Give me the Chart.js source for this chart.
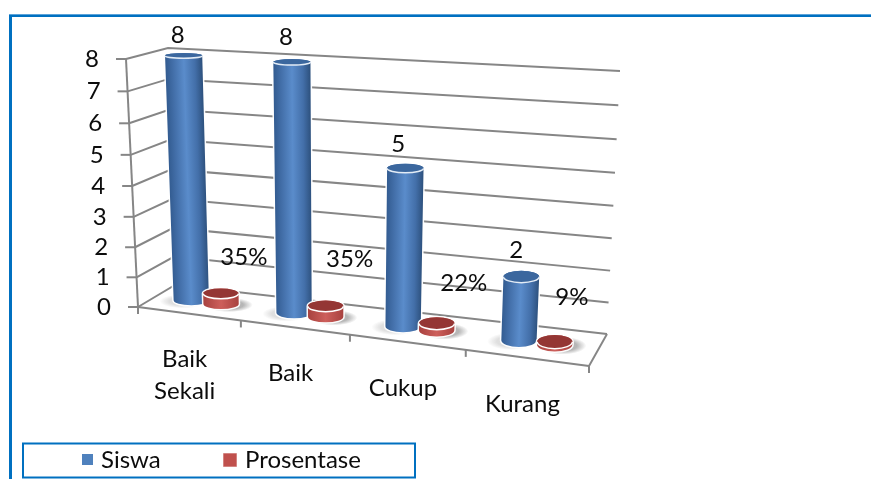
<!DOCTYPE html>
<html>
<head>
<meta charset="utf-8">
<style>
  html, body { margin: 0; padding: 0; background: #fff; }
  canvas { display: block; }
</style>
<script src="https://cdn.jsdelivr.net/npm/chart.js@4"></script>
</head>
<body>
<canvas id="chart" width="871" height="479"></canvas>
<script>
// Chart values
const categories = [['Baik', 'Sekali'], 'Baik', 'Cukup', 'Kurang'];
const siswa = [8, 8, 5, 2];
const prosentase = [0.35, 0.35, 0.22, 0.09];
const tickLabels = ['0', '1', '2', '3', '4', '5', '6', '7', '8'];

// Corners of the 3D plot box on screen: [x, y]
const box = {
  frontBottom: [[138, 307], [589, 366]],
  frontTop:    [[126, 59],  [604, 91]],
  backBottom:  [[175, 285], [607, 334]],
  backTop:     [[168, 48],  [620, 71]]
};
const FONT = 'Lato, sans-serif';
const GRID = '#868686';
const FRAME = '#0070c0';
const perspectiveU = 1.128, perspectiveV = 1.05;
const barDepth = 0.22;
// Hand placement of the value labels next to their cylinders
const valueNudge = [
  [[-6, -20], [-6, -25], [-7, -24], [-5, -26]],
  [[23, -36], [24, -47], [27, -40], [17, -45]]
];

const warp = (s, w) => s / (s + w * (1 - s));
const mix = (a, b, t) => [a[0] + (b[0] - a[0]) * t, a[1] + (b[1] - a[1]) * t];

// Map plot fractions (across, up, into the depth) to screen coordinates
function project(u, v, d) {
  const tu = warp(u, perspectiveU), tv = warp(v, perspectiveV);
  const front = mix(mix(box.frontBottom[0], box.frontBottom[1], tu), mix(box.frontTop[0], box.frontTop[1], tu), tv);
  const back = mix(mix(box.backBottom[0], box.backBottom[1], tu), mix(box.backTop[0], box.backTop[1], tu), tv);
  return mix(front, back, d);
}

function segment(ctx, a, b) {
  ctx.beginPath();
  ctx.moveTo(a[0], a[1]);
  ctx.lineTo(b[0], b[1]);
  ctx.stroke();
}

function softShadow(ctx, cx, cy, rx, ry, alpha) {
  ctx.save();
  ctx.translate(cx, cy);
  ctx.scale(1, ry / rx);
  const g = ctx.createRadialGradient(0, 0, rx * 0.6, 0, 0, rx);
  g.addColorStop(0, 'rgba(110,110,110,' + alpha + ')');
  g.addColorStop(1, 'rgba(110,110,110,0)');
  ctx.fillStyle = g;
  ctx.beginPath();
  ctx.arc(0, 0, rx, 0, Math.PI * 2);
  ctx.fill();
  ctx.restore();
}

function drawCylinder(ctx, chart, el, look) {
  const area = chart.chartArea;
  const u = (el.x - area.left) / area.width;
  const half = el.width / 2 / area.width;
  const v = (area.bottom - el.y) / area.height;
  const vBase = (area.bottom - el.base) / area.height;

  const bot = project(u, vBase, 0.5), top = project(u, v, 0.5);
  const spanAt = (vv) => project(1, vv, 0.5)[0] - project(0, vv, 0.5)[0];
  const rxBot = half * spanAt(vBase), rxTop = half * spanAt(v);
  const ryAt = (vv) => Math.abs(project(u, vv, 0.5 + barDepth)[1] - project(u, vv, 0.5 - barDepth)[1]) / 2;
  const ryBot = ryAt(vBase), ryTop = ryAt(v);

  softShadow(ctx, bot[0] + look.shadowShift, bot[1] + 1, rxBot + look.shadowGrow, ryBot + 2, look.shadowAlpha);

  const silhouette = () => {
    ctx.beginPath();
    ctx.moveTo(top[0] - rxTop, top[1]);
    ctx.lineTo(bot[0] - rxBot, bot[1]);
    ctx.ellipse(bot[0], bot[1], rxBot, ryBot, 0, Math.PI, 0, true);
    ctx.lineTo(top[0] + rxTop, top[1]);
    ctx.ellipse(top[0], top[1], rxTop, ryTop, 0, 0, Math.PI, true);
    ctx.closePath();
  };

  // Pale halo that separates the cylinder from what is behind it
  ctx.strokeStyle = 'rgba(255,255,255,0.95)';
  ctx.lineWidth = 3;
  silhouette();
  ctx.stroke();

  // Body shading runs across the leaning axis of the cylinder
  const mx = (top[0] + bot[0]) / 2, my = (top[1] + bot[1]) / 2;
  let ax = top[0] - bot[0], ay = top[1] - bot[1];
  const len = Math.hypot(ax, ay) || 1;
  ax /= len; ay /= len;
  const r = (rxTop + rxBot) / 2;
  const body = ctx.createLinearGradient(mx + ay * r, my - ax * r, mx - ay * r, my + ax * r);
  look.body.forEach(([stop, colour]) => body.addColorStop(stop, colour));
  ctx.fillStyle = body;
  silhouette();
  ctx.fill();

  // Open top with its bright rim
  ctx.fillStyle = look.cap;
  ctx.strokeStyle = look.rim;
  ctx.lineWidth = 1.5;
  ctx.beginPath();
  ctx.ellipse(top[0], top[1], rxTop, ryTop, 0, 0, Math.PI * 2);
  ctx.fill();
  ctx.beginPath();
  ctx.ellipse(top[0], top[1], rxTop, ryTop, 0, 0, Math.PI);
  ctx.stroke();

  return top;
}

const looks = [
  {
    body: [[0, '#335c91'], [0.2, '#436fa9'], [0.5, '#5a8ccb'], [0.8, '#436fa9'], [1, '#2e527f']],
    cap: '#3b679e', rim: '#e3ecf6',
    shadowShift: -8, shadowGrow: 6, shadowAlpha: 0.22
  },
  {
    body: [[0, '#a8423f'], [0.5, '#cd5f5b'], [1, '#a8423f']],
    cap: '#943634', rim: '#ffffff',
    shadowShift: 8, shadowGrow: 6, shadowAlpha: 0.5
  }
];

function drawText(ctx, text, x, y, align) {
  ctx.textAlign = align;
  ctx.fillText(text, x, y);
}

const scene3d = {
  id: 'scene3d',
  beforeDatasetsDraw(chart) {
    const ctx = chart.ctx;
    const area = chart.chartArea;
    const yScale = chart.scales.y, xScale = chart.scales.x;
    const vOf = (value) => (area.bottom - yScale.getPixelForValue(value)) / area.height;

    ctx.save();

    // Outer frame, open on the right
    ctx.strokeStyle = '#5ba3d9';
    ctx.lineWidth = 1;
    segment(ctx, [9, 14.5], [871, 14.5]);
    ctx.strokeStyle = FRAME;
    ctx.lineWidth = 2;
    segment(ctx, [9, 16], [871, 16]);
    ctx.lineWidth = 3;
    segment(ctx, [10.5, 15], [10.5, 479]);

    // Value gridlines along the side and back walls, ticks on the left axis
    ctx.strokeStyle = GRID;
    ctx.lineWidth = 2;
    yScale.ticks.forEach((tick) => {
      const v = vOf(tick.value);
      const a = project(0, v, 0), b = project(0, v, 1), c = project(1, v, 1);
      ctx.beginPath();
      ctx.moveTo(a[0], a[1]);
      ctx.lineTo(b[0], b[1]);
      ctx.lineTo(c[0], c[1]);
      ctx.stroke();
      segment(ctx, [a[0] - 10, a[1]], a);
    });
    segment(ctx, project(0, 0, 0), project(0, 1, 0));

    // Floor edges
    const f00 = project(0, 0, 0), f10 = project(1, 0, 0), f11 = project(1, 0, 1);
    segment(ctx, f00, f10);
    segment(ctx, f10, f11);

    // Category ticks hanging below the front edge
    for (let i = 0; i <= categories.length; i++) {
      const p = project(i / categories.length, 0, 0);
      segment(ctx, p, [p[0], p[1] + 7]);
    }

    // Cylinders, left to right, each category's first series behind the second
    const tops = chart.data.datasets.map(() => []);
    categories.forEach((_, index) => {
      chart.data.datasets.forEach((ds, dsIndex) => {
        const el = chart.getDatasetMeta(dsIndex).data[index];
        tops[dsIndex][index] = drawCylinder(ctx, chart, el, looks[dsIndex]);
      });
    });

    // Text
    ctx.fillStyle = '#0c0c0c';
    ctx.textBaseline = 'middle';
    ctx.font = '24px ' + FONT;

    chart.data.datasets.forEach((ds, dsIndex) => {
      ds.data.forEach((value, index) => {
        const [nx, ny] = valueNudge[dsIndex][index];
        const top = tops[dsIndex][index];
        drawText(ctx, ds.valueFormat(value), top[0] + nx, top[1] + ny, 'center');
      });
    });

    yScale.ticks.forEach((tick, i) => {
      const a = project(0, vOf(tick.value), 0);
      drawText(ctx, tickLabels[i], a[0] - 27, a[1], 'right');
    });

    categories.forEach((label, index) => {
      const u = (xScale.getPixelForValue(index) - area.left) / area.width;
      const p = project(u, 0, 0);
      const lines = Array.isArray(label) ? label : [label];
      lines.forEach((line, n) => drawText(ctx, line, p[0] - 4, p[1] + 46 + n * 32, 'center'));
    });

    // Legend box
    ctx.strokeStyle = FRAME;
    ctx.lineWidth = 2;
    ctx.strokeRect(23, 443.5, 392, 34);
    const legendSwatches = [[82, 454, 11, 11, '#4f81bd', null, 101], [223.5, 453.5, 13, 13, '#c0504d', '#e6b8b7', 245]];
    chart.data.datasets.forEach((ds, i) => {
      const [x, y, w, h, fill, edge, textX] = legendSwatches[i];
      if (edge) {
        ctx.strokeStyle = edge;
        ctx.lineWidth = 1;
        ctx.strokeRect(x, y, w, h);
      }
      ctx.fillStyle = fill;
      ctx.fillRect(x, y, w, h);
      ctx.fillStyle = '#0c0c0c';
      drawText(ctx, ds.label, textX, 460, 'left');
    });

    ctx.restore();
    return false; // the cylinders above replace the flat bars
  }
};

new Chart(document.getElementById('chart'), {
  type: 'bar',
  data: {
    labels: categories,
    datasets: [
      { label: 'Siswa', data: siswa, backgroundColor: '#4f81bd', valueFormat: (v) => String(v) },
      { label: 'Prosentase', data: prosentase, backgroundColor: '#c0504d', valueFormat: (v) => Math.round(v * 100) + '%' }
    ]
  },
  options: {
    responsive: false,
    animation: false,
    devicePixelRatio: 1,
    layout: { padding: { left: 100, right: 100, top: 60, bottom: 60 } },
    datasets: { bar: { categoryPercentage: 0.592, barPercentage: 1.08 } },
    plugins: { legend: { display: false }, tooltip: { enabled: false } },
    scales: {
      x: { display: false },
      y: { display: false, min: 0, max: 8, ticks: { stepSize: 1 } }
    }
  },
  plugins: [scene3d]
});
</script>
</body>
</html>
